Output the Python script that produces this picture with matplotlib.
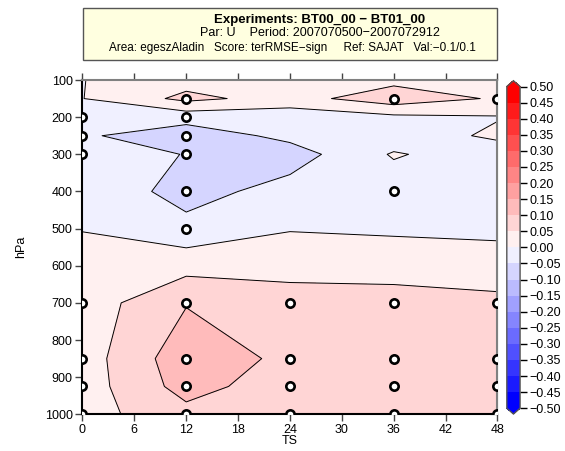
import numpy as np
import matplotlib
matplotlib.use("Agg")
import matplotlib.pyplot as plt
from matplotlib.colors import ListedColormap, BoundaryNorm

plt.rcParams['font.family'] = ['Liberation Sans', 'DejaVu Sans']

# forecast steps and pressure levels
ts = [0, 12, 24, 36, 48]
hpa = [100, 150, 200, 250, 300, 400, 500, 700, 850, 925, 1000]

# score difference, one row per level
row_100 = [-0.001, 0.030, 0.040, 0.036, 0.045]
row_150 = [-0.001, 0.063, 0.030, 0.080, 0.044]
row_200 = [-0.030, -0.030, -0.030, -0.011, -0.003]
row_250 = [-0.043, -0.080, -0.036, -0.030, 0.010]
row_300 = [-0.035, -0.051, -0.074, 0.005, -0.030]
row_400 = [-0.010, -0.070, -0.030, -0.030, -0.025]
row_500 = [-0.001, -0.034, -0.003, -0.008, -0.012]
row_700 = [0.022, 0.097, 0.070, 0.069, 0.061]
row_850 = [0.025, 0.132, 0.088, 0.075, 0.070]
row_925 = [0.025, 0.120, 0.071, 0.072, 0.070]
row_1000 = [0.030, 0.084, 0.070, 0.070, 0.068]

# significant points (circles)
sig_ts = [0, 0, 0, 0, 0, 0, 0,
          12, 12, 12, 12, 12, 12, 12, 12, 12, 12,
          24, 24, 24, 24,
          36, 36, 36, 36, 36, 36,
          48, 48, 48, 48, 48]
sig_hpa = [200, 250, 300, 700, 850, 925, 1000,
           150, 200, 250, 300, 400, 500, 700, 850, 925, 1000,
           700, 850, 925, 1000,
           150, 400, 700, 850, 925, 1000,
           150, 700, 850, 925, 1000]

levels = np.round(np.arange(-0.5, 0.501, 0.05), 2)

Z = np.array([row_100, row_150, row_200, row_250, row_300, row_400,
              row_500, row_700, row_850, row_925, row_1000])
X, Y = np.meshgrid(ts, hpa)

# blue - white - red bands
neg = [((240 * (1 - k / 9)) / 255, (240 * (1 - k / 9)) / 255, 1.0) for k in range(9, -1, -1)]
pos = [(1.0, (240 * (1 - k / 9)) / 255, (240 * (1 - k / 9)) / 255) for k in range(10)]
cmap = ListedColormap(neg + pos)
cmap.set_under((0, 0, 1))
cmap.set_over((1, 0, 0))
norm = BoundaryNorm(levels, cmap.N)

fig = plt.figure(figsize=(5.65, 4.51), dpi=100)
ax = fig.add_axes([0.146, 0.0814, 0.7345, 0.7412])

cf = ax.contourf(X, Y, Z, levels=levels, cmap=cmap, norm=norm, extend='both')
ax.contour(X, Y, Z, levels=levels, colors='black', linewidths=0.7,
           linestyles='solid')
ax.scatter(sig_ts, sig_hpa, s=36, facecolor='white', edgecolor='black',
           linewidth=1.9, zorder=5)

ax.set_xlim(0, 48)
ax.set_ylim(1000, 100)
ax.set_xticks(np.arange(0, 49, 6))
ax.set_yticks(np.arange(100, 1001, 100))
ax.tick_params(labelsize=9, length=5, width=1, color='#444444')
ax.tick_params(axis='x', top=True, direction='out', pad=2)
ax.tick_params(axis='y', direction='out', pad=2)
ax.set_xlabel('TS', fontsize=9, labelpad=-1)
ax.set_ylabel('hPa', fontsize=9, labelpad=13)

for s in ['left', 'bottom']:
    ax.spines[s].set_color('black')
    ax.spines[s].set_linewidth(1.5)
for s in ['top', 'right']:
    ax.spines[s].set_color('#808080')
    ax.spines[s].set_linewidth(1.5)

sec = ax.secondary_yaxis('right')
sec.set_yticks(np.arange(100, 1001, 100))
sec.tick_params(direction='in', length=5, labelright=False, color='#444444')
sec.spines['right'].set_color('#808080')
sec.spines['right'].set_linewidth(1.5)

# colour bar
cax = fig.add_axes([0.897, 0.082, 0.0235, 0.739])
cb = fig.colorbar(cf, cax=cax, ticks=levels, extendfrac=0.018)
cb.ax.set_yticklabels([f"{abs(v):.2f}" if v >= 0 else "\u2212" + f"{abs(v):.2f}"
                       for v in levels])
cb.ax.tick_params(labelsize=9, length=5, width=1, pad=2)
cb.outline.set_edgecolor('#555555')
cb.outline.set_linewidth(1)

# header box
fig.add_artist(plt.Rectangle((0.147, 0.867), 0.733, 0.115, transform=fig.transFigure,
                             facecolor='#ffffe0', edgecolor='#555555', linewidth=1))
fig.text(0.566, 0.955, 'Experiments: BT00_00 \u2212 BT01_00', ha='center', va='center',
         fontsize=9.5, fontweight='bold')
fig.text(0.566, 0.926, 'Par: U    Period: 2007070500\u22122007072912', ha='center',
         va='center', fontsize=9)
fig.text(0.193, 0.893, 'Area: egeszAladin   Score: terRMSE\u2212sign     Ref: SAJAT   Val:\u22120.1/0.1',
         ha='left', va='center', fontsize=8.5)

fig.savefig('out.png', dpi=100)
